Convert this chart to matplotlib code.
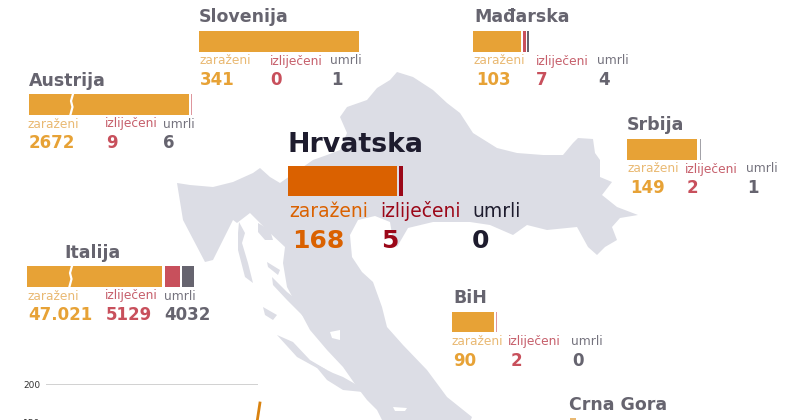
"""Koronavirus u regiji - karta Hrvatske sa susjednim zemljama."""
import matplotlib
matplotlib.use('Agg')
import matplotlib.pyplot as plt
from matplotlib.patches import Polygon

plt.rcParams['font.family'] = ['DejaVu Sans']

# ---- data ----
countries = ['Slovenija', 'Austrija', 'Mađarska', 'Srbija', 'Italija', 'BiH']
zarazeni = [341, 2672, 103, 149, 47021, 90]
izlijeceni = [0, 9, 7, 2, 5129, 2]
umrli = [1, 6, 4, 1, 4032, 0]
zarazeni_txt = ['341', '2672', '103', '149', '47.021', '90']

hr_zarazeni, hr_izlijeceni, hr_umrli = 168, 5, 0
chart_days = [21.9, 22.2]
chart_cases = [150, 175]

# ---- colours ----
ORANGE, RED, GREY = '#E7A236', '#C8505C', '#66646F'
L_ORANGE, L_RED, L_GREY = '#E9B973', '#C65F6B', '#75737E'
HR_ORANGE, HR_RED, HR_DARK = '#DA6100', '#9B0718', '#1E1C2E'
MAP = '#DCDDE5'

# ---- layout in pixels: bar x, bar top, bar cap, scale, small scale, name x, label xs, number xs ----
layout = {
    'Slovenija': (199, 31, 160, 0.47, 0.5, 199, (199, 270, 330), (200, 270, 331)),
    'Austrija': (29, 94, 160, 0.47, 0.12, 29, (28, 105, 163), (29, 106, 163)),
    'Mađarska': (473, 31, 160, 0.47, 0.47, 474, (474, 536, 597), (476, 536, 598)),
    'Srbija': (627, 139, 160, 0.47, 0.47, 627, (628, 685, 746), (630, 687, 747)),
    'Italija': (27, 266, 135, 0.47, 0.0029, 64, (28, 105, 164), (28, 106, 164)),
    'BiH': (452, 311.5, 160, 0.47, 0.5, 453, (452, 508, 571), (453, 511, 572)),
}
broken = {'Austrija': 72, 'Italija': 71}

# rough outline of the map, in pixels
croatia = [(177, 183), (190, 185), (213, 187), (233, 182), (253, 173), (260, 168), (270, 177), (280, 183),
           (313, 160), (327, 155), (340, 150), (347, 133), (340, 117), (347, 107), (367, 100), (377, 88),
           (390, 80), (397, 72), (413, 77), (433, 90), (447, 103), (460, 113), (473, 133), (497, 148),
           (517, 153), (543, 155), (563, 155), (573, 143), (578, 138), (593, 139), (595, 153), (600, 160),
           (600, 177), (612, 182), (602, 195), (617, 207), (638, 215), (620, 218), (612, 227), (617, 240),
           (605, 247), (597, 255), (588, 247), (577, 227), (547, 230), (527, 225), (513, 235), (490, 225),
           (470, 222), (433, 222), (408, 228), (397, 247), (393, 240), (390, 222), (375, 216), (358, 220),
           (350, 235), (352, 257), (362, 272), (373, 282), (382, 307), (387, 327), (403, 345), (427, 370),
           (447, 397), (472, 417), (470, 422), (383, 422), (377, 410), (367, 400), (357, 387), (343, 367),
           (327, 350), (310, 330), (287, 287), (283, 263), (285, 247), (270, 233), (262, 225), (250, 213),
           (237, 223), (233, 220), (213, 260), (205, 262), (183, 220)]
islands = [
    [(239, 222), (245, 233), (242, 243), (248, 263), (253, 283), (245, 277), (238, 250), (238, 233)],
    [(258, 223), (270, 230), (273, 240), (265, 240), (258, 232)],
    [(267, 262), (280, 270), (278, 275), (268, 267)],
    [(272, 277), (287, 292), (310, 310), (328, 325), (307, 320), (287, 300), (273, 285)],
    [(263, 307), (277, 315), (273, 320), (265, 315)],
    [(277, 335), (293, 342), (310, 360), (327, 370), (317, 368), (297, 357)],
    [(313, 363), (333, 373), (343, 377), (357, 385), (363, 392), (343, 390), (327, 380)],
]
white_bits = [[(330, 332), (340, 330), (340, 340), (332, 338)], [(393, 407), (407, 408), (405, 411), (395, 411)]]

fig = plt.figure(figsize=(8, 4.2), dpi=100)
ax = fig.add_axes([0, 0, 1, 1])
ax.set_xlim(0, 800); ax.set_ylim(420, 0); ax.axis('off')

ax.add_patch(Polygon(croatia, closed=True, fc=MAP, ec='none', zorder=1))
for isl in islands:
    ax.add_patch(Polygon(isl, closed=True, fc=MAP, ec='none', zorder=1))
for w in white_bits:
    ax.add_patch(Polygon(w, closed=True, fc='white', ec='none', zorder=1))


def country(name, z, iz, um, z_txt):
    x, top, cap, sc, small, name_x, lab_x, num_x = layout[name]
    h = 20.5
    gap = 3 if name == 'Italija' else 1.5
    zw = min(z * sc, cap)
    ax.barh(top + h / 2, zw, height=h, left=x, color=ORANGE, zorder=3)
    rw, gw = iz * small, um * small
    # the hairline bars look pale in the original
    ax.barh(top + h / 2, rw, height=h, left=x + zw + gap, color=RED, zorder=3, alpha=0.6 if rw < 1.5 else 1)
    ax.barh(top + h / 2, gw, height=h, left=x + zw + rw + 2 * gap - 0.5, color=GREY, zorder=3,
            alpha=0.6 if gw < 1.5 else 1)
    if name in broken:
        bx = broken[name]
        ax.plot([bx + 1, bx - 1, bx + 0.5, bx - 1.5], [top, top + 7, top + 13, top + h],
                color='white', lw=1.6, zorder=4)
    ax.text(name_x, top - 8.5, name, fontsize=12.5, fontweight='bold', color=GREY, zorder=5)
    for lx, txt, c in zip(lab_x, ['zaraženi', 'izliječeni', 'umrli'], [L_ORANGE, L_RED, L_GREY]):
        ax.text(lx, top + 33.5, txt, fontsize=8.8, color=c, zorder=5)
    for nx, txt, c in zip(num_x, [z_txt, str(iz), str(um)], [ORANGE, RED, GREY]):
        ax.text(nx, top + 54, txt, fontsize=12, fontweight='bold', color=c, zorder=5)


for row in zip(countries, zarazeni, izlijeceni, umrli, zarazeni_txt):
    country(*row)

# Hrvatska is the big one
ax.barh(181, hr_zarazeni * 0.65, height=30, left=288, color=HR_ORANGE, zorder=3)
ax.barh(181, hr_izlijeceni * 0.8, height=30, left=399, color=HR_RED, zorder=3)
ax.text(287, 152, 'Hrvatska', fontsize=19.3, fontweight='bold', color=HR_DARK, zorder=5)
for lx, txt, c in zip((289, 380, 472), ['zaraženi', 'izliječeni', 'umrli'], [HR_ORANGE, HR_RED, HR_DARK]):
    ax.text(lx, 217, txt, fontsize=13.5, color=c, zorder=5)
for nx, val, c in zip((292, 381, 472), [hr_zarazeni, hr_izlijeceni, hr_umrli], [HR_ORANGE, HR_RED, HR_DARK]):
    ax.text(nx, 248, str(val), fontsize=18, fontweight='bold', color=c, zorder=5)

# Crna Gora is cut off by the bottom edge
ax.text(569, 410, 'Crna Gora', fontsize=12.5, fontweight='bold', color=GREY, zorder=5)
ax.barh(421, 6, height=6, left=570, color=L_ORANGE, zorder=3)

# small line chart, only its top is visible
cax = fig.add_axes([46 / 800, -2 / 420, 212 / 800, 38 / 420])
cax.patch.set_alpha(0)
cax.set_xlim(0, 22); cax.set_ylim(150, 200)
cax.plot(chart_days, chart_cases, color='#D9820F', lw=2, clip_on=False, zorder=3)
cax.set_yticks([150, 200])
cax.set_xticks([])
cax.tick_params(axis='y', length=0, labelsize=6.5, pad=4, labelcolor='#333333')
cax.grid(axis='y', color='#C9C9C9', lw=1.2)
cax.set_axisbelow(True)
for s in cax.spines.values():
    s.set_visible(False)

fig.savefig('out.png', dpi=100, facecolor='white')
